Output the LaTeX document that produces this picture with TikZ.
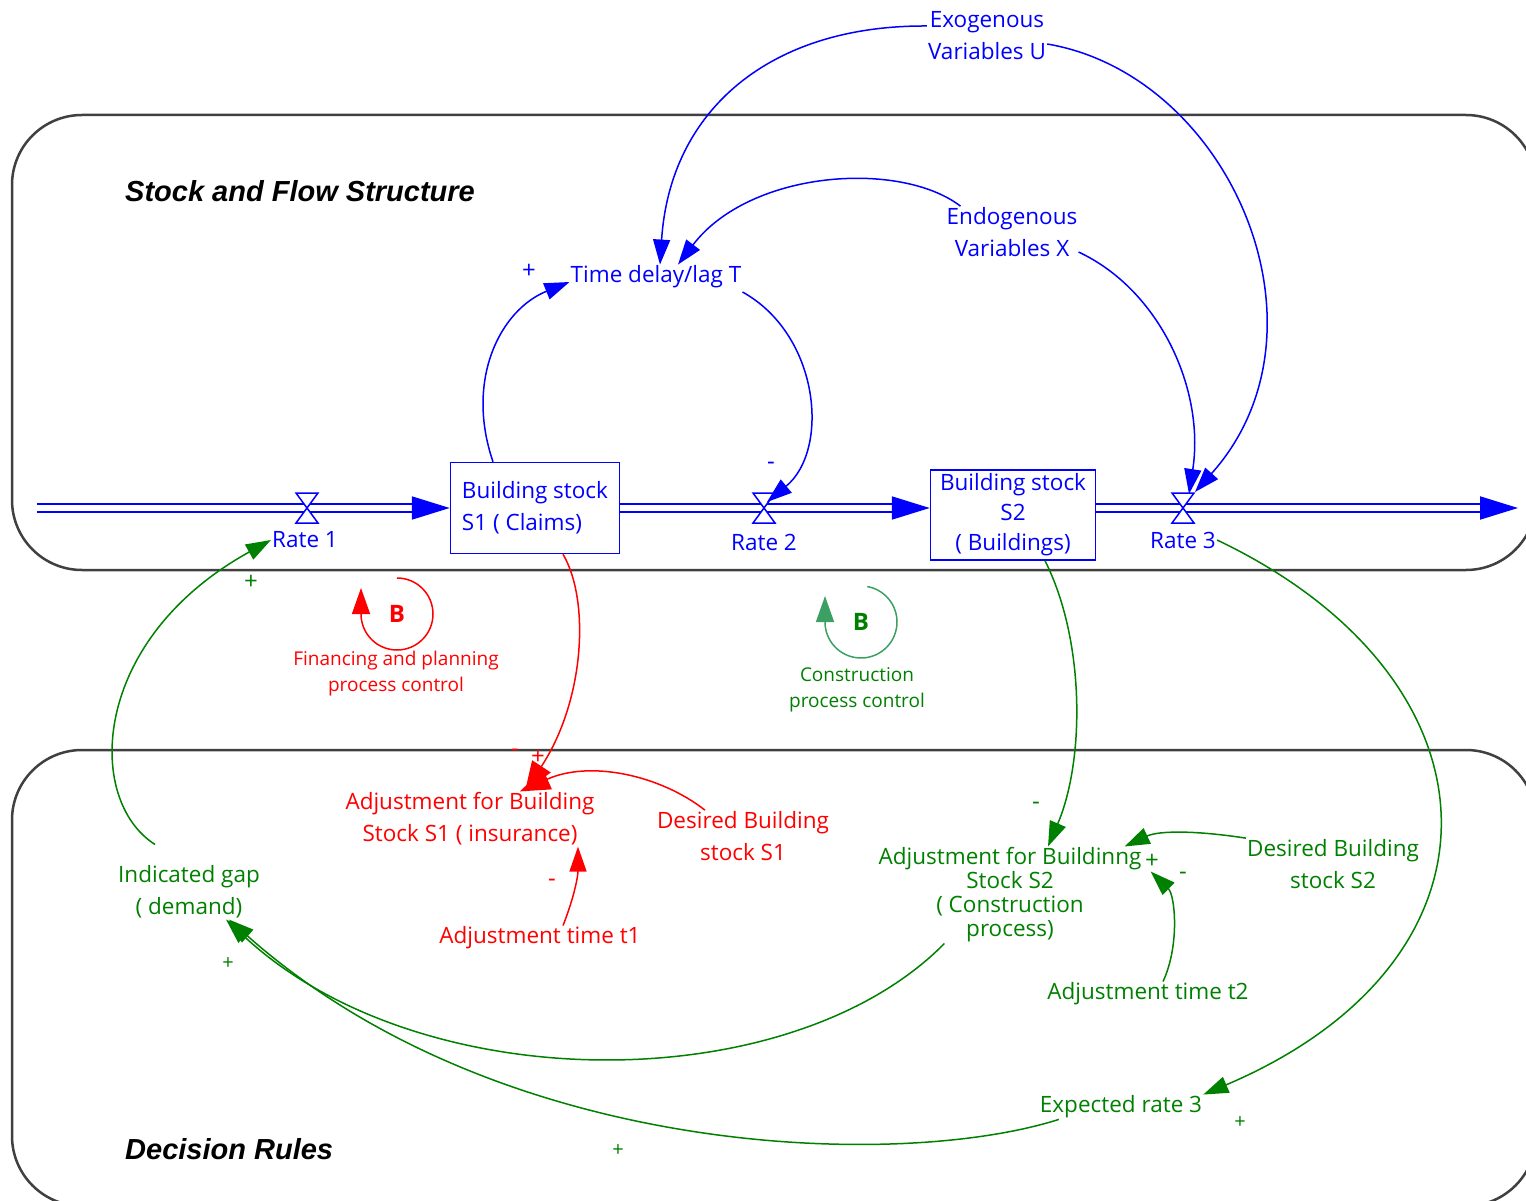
\documentclass[tikz,border=0pt]{standalone}
\usepackage{fontspec}
\setmainfont{Open Sans}
\newfontfamily\titlefont{Liberation Sans}
\usetikzlibrary{arrows.meta}

\definecolor{vblue}{RGB}{0,0,255}
\definecolor{vred}{RGB}{255,0,0}
\definecolor{vgreen}{RGB}{0,128,0}
\definecolor{lgreen}{RGB}{60,160,100}
\definecolor{framegray}{RGB}{64,64,64}

\begin{document}
\begin{tikzpicture}[x=1pt, y=-1pt,
  txt/.style={align=center, inner sep=1pt, font=\fontsize{22.5}{32}\selectfont},
  small/.style={align=center, inner sep=1pt, font=\fontsize{19}{26}\selectfont},
  sign/.style={inner sep=0pt, font=\fontsize{24}{24}\selectfont},
  stock/.style={draw=vblue, line width=1.5pt, minimum width=169pt, minimum height=91pt, text=vblue, txt},
  pipe/.style={draw=vblue, double=white, double distance=6pt, line width=2pt, -{Triangle[length=38pt,width=23pt]}},
  link/.style={line width=1.5pt, -{Triangle[length=25pt,width=17pt]}},
  biglink/.style={line width=1.5pt, -{Triangle[length=30pt,width=22pt]}},
  frame/.style={draw=framegray, line width=2.5pt, rounded corners=70pt},
  title/.style={anchor=west, inner sep=0pt, font=\titlefont\bfseries\itshape\fontsize{29}{34}\selectfont},
  valve/.pic={\draw[vblue, line width=1.5pt, fill=white] (-11,-15) -- (11,-15) -- (-11,15) -- (11,15) -- cycle;}
]
\useasboundingbox (0,0) rectangle (1526,1201);
\clip (0,0) rectangle (1526,1201);

% frames
\draw[frame] (12,115) rectangle (1536,570);
\draw[frame] (12,750) rectangle (1536,1206);
\node[title] (t1) at (125,191) {Stock and Flow Structure};
\node[title] (t2) at (125,1149) {Decision Rules};

% stocks and flows
\node[stock, align=left] (S1) at (535,508) {Building stock\\S1 ( Claims)};
\node[stock, minimum width=165pt, minimum height=90pt, font=\fontsize{22.5}{30}\selectfont] (S2) at (1013,515) {Building stock\\S2\\( Buildings)};
\coordinate (src) at (37,508);
\coordinate (snk) at (1518,508);
\coordinate (v1) at (307,508);
\coordinate (v2) at (764,508);
\coordinate (v3) at (1183,508);

\draw[pipe] (src) -- (S1.west);
\draw[pipe] (S1.east) -- (S1.east -| S2.west);
\draw[pipe] (S2.east |- S1.east) -- (snk);
\pic at (v1) {valve};
\pic at (v2) {valve};
\pic at (v3) {valve};

\node[txt, text=vblue] (rate1) at (305,540) {Rate 1};
\node[txt, text=vblue] (rate2) at (764,542) {Rate 2};
\node[txt, text=vblue] (rate3) at (1183,540) {Rate 3};

% blue variables
\node[txt, text=vblue] (exo) at (987,36) {Exogenous\\Variables U};
\node[txt, text=vblue] (endo) at (1012,232) {Endogenous\\Variables X};
\node[txt, text=vblue] (tdl) at (656,277) {Time delay/lag T};
\node[sign, text=vblue] (s1) at (529,271) {+};
\node[sign, text=vblue] (s2) at (771,466) {-};

\draw[link, vblue] ([xshift=-42pt]S1.north) .. controls (465,380) and (500,310) .. ([yshift=-5pt]tdl.west);
\draw[link, vblue] ([yshift=-15pt]tdl.east) .. controls (820,335) and (830,450) .. ([xshift=3pt,yshift=6pt]v2);
\draw[link, vblue] ([yshift=10pt]exo.west) .. controls (770,25) and (670,110) .. ([xshift=4pt]tdl.north);
\draw[link, vblue] ([xshift=15pt]endo.north west) .. controls (900,160) and (750,170) .. ([xshift=22pt]tdl.north);
\draw[link, vblue] ([yshift=-20pt]endo.east) .. controls (1160,290) and (1205,390) .. ([xshift=6pt,yshift=14pt]v3);
\draw[link, vblue] ([yshift=-8pt]exo.east) .. controls (1230,75) and (1340,330) .. ([xshift=12pt,yshift=16pt]v3);

% loops
\node[inner sep=0pt, text=vred, font=\bfseries\fontsize{24}{24}\selectfont] (lp1) at (397,614) {B};
\node[small, text=vred] (lp1txt) at (396,674) {Financing and planning\\process control};
\draw[vred, line width=1.5pt, -{Triangle[length=26pt,width=18pt]}] ([shift={(90:36pt)}]lp1.center) arc[start angle=90, end angle=-180, radius=36pt] -- ++(0pt,26pt);
\node[inner sep=0pt, text=vgreen, font=\bfseries\fontsize{24}{24}\selectfont] (lp2) at (861,622) {B};
\node[small, text=vgreen] (lp2txt) at (857,690) {Construction\\process control};
\draw[lgreen, line width=1.5pt, -{Triangle[length=26pt,width=18pt]}] ([shift={(80:36pt)}]lp2.center) arc[start angle=80, end angle=-180, radius=36pt] -- ++(0pt,26pt);

% red decision rule
\node[txt, text=vred] (adj1) at (470,819) {Adjustment for Building\\Stock S1 ( insurance)};
\node[txt, text=vred] (des1) at (743,836) {Desired Building\\stock S1};
\node[txt, text=vred] (adt1) at (540,938) {Adjustment time t1};
\node[sign, text=vred] (s3) at (515,753) {-};
\node[sign, text=vred] (s4) at (538,757) {+};
\node[sign, text=vred] (s5) at (552,883) {-};

\draw[biglink, vred] ([xshift=28pt]S1.south) .. controls (590,600) and (585,700) .. ([xshift=55pt]adj1.north);
\draw[biglink, vred] ([xshift=-38pt]des1.north) .. controls (660,775) and (590,760) .. ([xshift=50pt]adj1.north);
\draw[link, vred] ([xshift=23pt]adt1.north) .. controls (575,895) and (578,875) .. ([xshift=108pt]adj1.south);

% green decision rule
\node[txt, text=vgreen, font=\fontsize{22.5}{24}\selectfont] (adj2) at (1010,895) {Adjustment for Buildinng\\Stock S2\\( Construction\\process)};
\node[txt, text=vgreen] (des2) at (1333,864) {Desired Building\\stock S2};
\node[txt, text=vgreen] (adt2) at (1148,994) {Adjustment time t2};
\node[txt, text=vgreen] (gap) at (189,892) {Indicated gap\\( demand)};
\node[txt, text=vgreen] (exr3) at (1121,1107) {Expected rate 3};
\node[sign, text=vgreen] (s6) at (1036,806) {-};
\node[sign, text=vgreen] (s7) at (1152,861) {+};
\node[sign, text=vgreen] (s8) at (1183,876) {-};
\node[sign, text=vgreen] (s9) at (251,582) {+};
\node[sign, text=vgreen, font=\fontsize{20}{20}\selectfont] (s10) at (228,964) {+};
\node[sign, text=vgreen, font=\fontsize{20}{20}\selectfont] (s11) at (618,1151) {+};
\node[sign, text=vgreen, font=\fontsize{20}{20}\selectfont] (s12) at (1240,1123) {+};

\draw[link, vgreen] ([xshift=32pt]S2.south) .. controls (1085,640) and (1085,760) .. ([xshift=38pt]adj2.north);
\draw[link, vgreen] (des2.north west) .. controls (1200,831) and (1160,830) .. ([xshift=-18pt]adj2.north east);
\draw[link, vgreen] ([xshift=15pt]adt2.north) .. controls (1180,945) and (1175,895) .. ([xshift=8pt,yshift=-25pt]adj2.north east);
\draw[link, vgreen] ([xshift=67pt]adj2.south west) .. controls (790,1100) and (420,1100) .. ([xshift=37pt]gap.south);
\draw[link, vgreen] ([xshift=20pt]exr3.south west) .. controls (900,1170) and (500,1160) .. ([xshift=40pt]gap.south);
\draw[link, vgreen] (rate3.east) .. controls (1509,679) and (1520,960) .. (exr3.north east);
\draw[link, vgreen] ([xshift=-34pt,yshift=20pt]gap.north) .. controls (85,800) and (90,640) .. (rate1.west);
\end{tikzpicture}
\end{document}
